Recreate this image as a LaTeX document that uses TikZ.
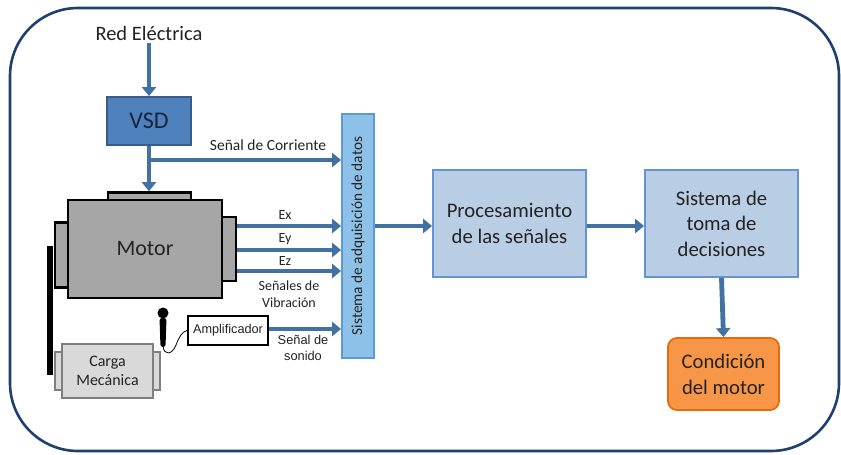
\documentclass[tikz,border=0pt]{standalone}
\usepackage{fontspec}
\setmainfont{Carlito}
\newfontfamily\arialf{Liberation Sans}
\usetikzlibrary{arrows.meta,calc}

\definecolor{arrblue}{RGB}{66,113,163}
\definecolor{framecol}{RGB}{31,63,110}
\definecolor{vsdfill}{RGB}{79,129,189}
\definecolor{vsdline}{RGB}{56,93,138}
\definecolor{vsdtext}{RGB}{23,38,63}
\definecolor{barfill}{RGB}{142,193,232}
\definecolor{barline}{RGB}{91,155,213}
\definecolor{boxfill}{RGB}{185,205,229}
\definecolor{boxline}{RGB}{100,149,210}
\definecolor{orfill}{RGB}{247,150,70}
\definecolor{orline}{RGB}{228,108,10}
\definecolor{motorgray}{RGB}{166,166,166}
\definecolor{loadgray}{RGB}{217,217,217}
\definecolor{loadline}{RGB}{127,127,127}
\definecolor{txt}{RGB}{35,35,35}

\tikzset{
  arr/.style={draw=arrblue, line width=4.8pt, -{Triangle[length=9pt,width=14pt]}},
  blk/.style={inner sep=0pt, align=center, text=txt},
  blue box/.style={blk, draw=boxline, line width=1.8pt, fill=boxfill, font=\fontsize{20.7}{25.5}\selectfont},
  motor part/.style={draw=black, line width=2.6pt, fill=motorgray},
  load part/.style={draw=loadline, line width=2.4pt, fill=loadgray},
  lbl/.style={inner sep=0pt, align=center, text=txt, font=\fontsize{15.5}{18}\selectfont},
  lbla/.style={inner sep=0pt, align=center, text=txt, font=\arialf\fontsize{12.8}{16.5}\selectfont},
}

\begin{document}
\begin{tikzpicture}[x=1pt,y=-1pt]
\useasboundingbox (0,0) rectangle (841,455);
\fill[white] (0,0) rectangle (841,455);

% outer frame
\draw[framecol, line width=2.6pt, rounded corners=68pt] (10,8) rectangle (839,451);

% power source and drive
\node[blk, font=\fontsize{20.5}{24}\selectfont] (red) at (149,33) {Red Eléctrica};
\node[blk, draw=vsdline, line width=1.8pt, fill=vsdfill, minimum width=84pt, minimum height=48pt,
      text=vsdtext, font=\fontsize{24}{28}\selectfont] (vsd) at (149,121) {VSD};

% motor
\node[motor part, minimum width=83pt, minimum height=8pt, inner sep=0pt] (cap) at (149.5,196.5) {};
\node[motor part, minimum width=13pt, minimum height=65pt, inner sep=0pt] (lcap) at (61.5,255) {};
\node[motor part, minimum width=14pt, minimum height=64pt, inner sep=0pt] (rcap) at (229,249) {};
\node[blk, motor part, minimum width=154pt, minimum height=98pt, font=\fontsize{22}{26}\selectfont] (motor) at (145,249) {Motor};

% shaft
\fill[black] (47,246) rectangle (53,375);

% mechanical load
\node[load part, minimum width=7pt, minimum height=38pt, inner sep=0pt] (lload) at (58.5,371) {};
\node[load part, minimum width=7pt, minimum height=38pt, inner sep=0pt] (rload) at (156.5,371) {};
\node[blk, load part, minimum width=91pt, minimum height=54pt, font=\fontsize{16}{19}\selectfont] (load) at (107.5,371) {Carga\\Mecánica};

% microphone and amplifier
\node[blk, draw=black, line width=2.4pt, fill=white, minimum width=80pt, minimum height=29pt,
      font=\arialf\fontsize{12.7}{15}\selectfont] (amp) at (228,330.5) {Amplificador};
\fill[black] (163,313) circle (5.5pt);
\fill[black, rounded corners=2.5pt] (159.5,318) -- (166.5,318) -- (165.5,347) -- (160.5,347) -- cycle;
\coordinate (micb) at (163,346);
\draw[black, line width=0.8pt] (micb) .. controls (164,356) and (172,355) .. (176,345)
  .. controls (179,337) and (182,332) .. (amp.west);

% data acquisition bar
\node[blk, draw=barline, line width=1.8pt, fill=barfill, minimum width=32pt, minimum height=244pt] (bar) at (358,236) {};
\node[lbl, rotate=90, font=\fontsize{15.3}{18}\selectfont] (bartxt) at (bar.center) {Sistema de adquisición de datos};

% processing chain
\node[blue box, minimum width=153pt, minimum height=107pt] (proc) at (509.5,223.5) {Procesamiento\\de las señales};
\node[blue box, minimum width=153pt, minimum height=107pt] (dec) at (721.5,223.5) {Sistema de\\toma de\\decisiones};
\node[blk, draw=orline, line width=1.8pt, fill=orfill, rounded corners=9pt, minimum width=111pt, minimum height=72pt,
      font=\fontsize{20.7}{26}\selectfont] (cond) at (723.5,374) {Condición\\del motor};

% supply arrows
\draw[arr] (red.south) ++(0,3) -- (vsd.north);
\coordinate (jn) at (vsd.south |- 0,160);
\draw[arr] (vsd.south) -- (vsd.south |- cap.north);
\draw[arr] (jn) -- (bar.west |- jn);

% sensor signals
\coordinate (ex) at (rcap.east |- 0,226);
\coordinate (ey) at (rcap.east |- 0,250);
\coordinate (ez) at (rcap.east |- 0,271);
\draw[arr] (ex) -- (bar.west |- ex);
\draw[arr] (ey) -- (bar.west |- ey);
\draw[arr] (ez) -- (bar.west |- ez);
\coordinate (snd) at (amp.east |- 0,329);
\draw[arr] (snd) -- (bar.west |- snd);

% processing arrows
\coordinate (mid) at (bar.east |- 0,226);
\draw[arr] (mid) -- (proc.west |- mid);
\draw[arr] (proc.east |- mid) -- (dec.west |- mid);
\draw[arr] (dec.south) -- (cond.north);

% labels
\node[lbl] (lc) at (268,145) {Señal de Corriente};
\node[lbl, font=\fontsize{14}{17}\selectfont] (lx) at (285,215) {Ex};
\node[lbl, font=\fontsize{14}{17}\selectfont] (ly) at (285,239) {Ey};
\node[lbl, font=\fontsize{14}{17}\selectfont] (lz) at (285,261) {Ez};
\node[lbl, font=\fontsize{14}{17.5}\selectfont] (lv) at (289,294) {Señales de\\Vibración};
\node[lbla] (ls) at (303,348) {Señal de\\sonido};
\end{tikzpicture}
\end{document}
